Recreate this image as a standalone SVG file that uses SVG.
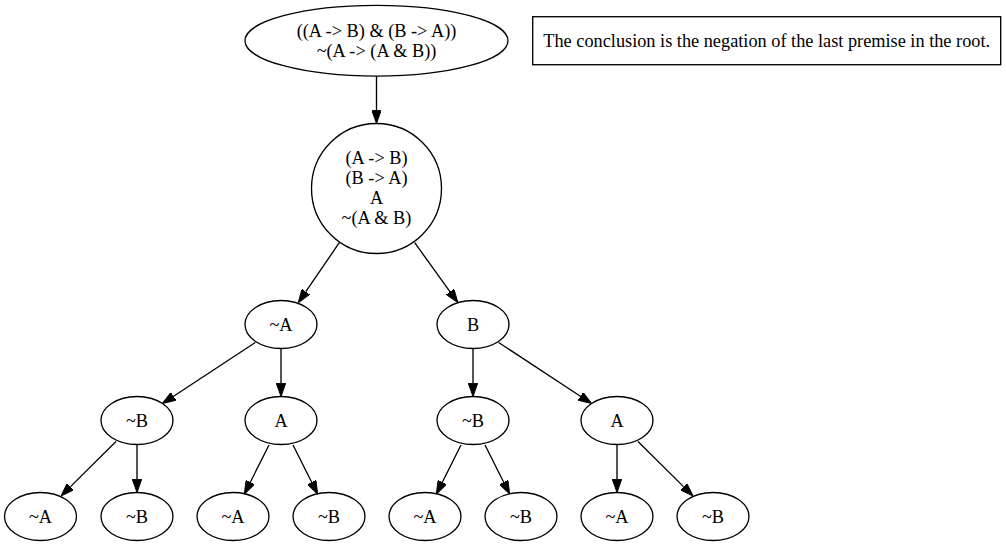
<svg xmlns="http://www.w3.org/2000/svg" width="1006" height="547" viewBox="0 0 1006 547">
<style>
.n{fill:none;stroke:#000;stroke-width:1.33}
.t{font-family:"Liberation Serif","Times New Roman",serif;font-size:18.3px;fill:#000;text-anchor:middle}
.e{fill:none;stroke:#000;stroke-width:1.33}
</style>
<defs>
<marker id="ah" markerUnits="userSpaceOnUse" viewBox="0 0 13.3 9.4" refX="0" refY="4.7" markerWidth="13.3" markerHeight="9.4" orient="auto">
<path d="M0,0 L13.3,4.7 L0,9.4 z" fill="#000" stroke="#000" stroke-width="1"/>
</marker>
</defs>
<rect x="0" y="0" width="1006" height="547" fill="#fff"/>
<g id="connectors">
<line class="e" x1="376.5" y1="76.1" x2="376.5" y2="110.2" marker-end="url(#ah)"/>
<line class="e" x1="339.3" y1="242.7" x2="305.8" y2="291.7" marker-end="url(#ah)"/>
<line class="e" x1="414.7" y1="242.7" x2="450.1" y2="291.8" marker-end="url(#ah)"/>
<line class="e" x1="255.3" y1="342.5" x2="173.6" y2="396.2" marker-end="url(#ah)"/>
<line class="e" x1="281" y1="348.5" x2="281" y2="383.2" marker-end="url(#ah)"/>
<line class="e" x1="473" y1="348.5" x2="473" y2="383.2" marker-end="url(#ah)"/>
<line class="e" x1="498.7" y1="342.5" x2="580.4" y2="396.2" marker-end="url(#ah)"/>
<line class="e" x1="116" y1="441.5" x2="70.5" y2="486.6" marker-end="url(#ah)"/>
<line class="e" x1="137" y1="444.5" x2="137" y2="479.2" marker-end="url(#ah)"/>
<line class="e" x1="269" y1="445" x2="250.3" y2="482.2" marker-end="url(#ah)"/>
<line class="e" x1="293" y1="445" x2="311.7" y2="482.2" marker-end="url(#ah)"/>
<line class="e" x1="461" y1="445" x2="442.3" y2="482.2" marker-end="url(#ah)"/>
<line class="e" x1="485" y1="445" x2="503.7" y2="482.2" marker-end="url(#ah)"/>
<line class="e" x1="617" y1="444.5" x2="617" y2="479.2" marker-end="url(#ah)"/>
<line class="e" x1="638" y1="441.5" x2="683.5" y2="486.6" marker-end="url(#ah)"/>
</g>
<g id="root">
<ellipse class="n" cx="376.5" cy="40.7" rx="131.5" ry="35.4"/>
<text class="t" x="376.5" y="36.5">((A -&gt; B) &amp; (B -&gt; A))</text>
<text class="t" x="376.5" y="57">~(A -&gt; (A &amp; B))</text>
</g>
<g id="note">
<rect class="n" x="532.7" y="16.7" width="468" height="48"/>
<text class="t" x="766.7" y="46.5">The conclusion is the negation of the last premise in the root.</text>
</g>
<g id="premises">
<circle class="n" cx="376.5" cy="188.5" r="65"/>
<text class="t" x="376.5" y="163.5">(A -&gt; B)</text>
<text class="t" x="376.5" y="183.5">(B -&gt; A)</text>
<text class="t" x="376.5" y="203.5">A</text>
<text class="t" x="376.5" y="223.5">~(A &amp; B)</text>
</g>
<g id="n_notA"><ellipse class="n" cx="281" cy="324.5" rx="36" ry="24"/><text class="t" x="281" y="330.5">~A</text></g>
<g id="n_B"><ellipse class="n" cx="473" cy="324.5" rx="36" ry="24"/><text class="t" x="473" y="330.5">B</text></g>
<g id="n_notA_notB"><ellipse class="n" cx="137" cy="420.5" rx="36" ry="24"/><text class="t" x="137" y="426.5">~B</text></g>
<g id="n_notA_A"><ellipse class="n" cx="281" cy="420.5" rx="36" ry="24"/><text class="t" x="281" y="426.5">A</text></g>
<g id="n_B_notB"><ellipse class="n" cx="473" cy="420.5" rx="36" ry="24"/><text class="t" x="473" y="426.5">~B</text></g>
<g id="n_B_A"><ellipse class="n" cx="617" cy="420.5" rx="36" ry="24"/><text class="t" x="617" y="426.5">A</text></g>
<g id="leaf1"><ellipse class="n" cx="40.5" cy="516.5" rx="36" ry="24"/><text class="t" x="40.5" y="522.5">~A</text></g>
<g id="leaf2"><ellipse class="n" cx="137" cy="516.5" rx="36" ry="24"/><text class="t" x="137" y="522.5">~B</text></g>
<g id="leaf3"><ellipse class="n" cx="233" cy="516.5" rx="36" ry="24"/><text class="t" x="233" y="522.5">~A</text></g>
<g id="leaf4"><ellipse class="n" cx="329" cy="516.5" rx="36" ry="24"/><text class="t" x="329" y="522.5">~B</text></g>
<g id="leaf5"><ellipse class="n" cx="425" cy="516.5" rx="36" ry="24"/><text class="t" x="425" y="522.5">~A</text></g>
<g id="leaf6"><ellipse class="n" cx="521" cy="516.5" rx="36" ry="24"/><text class="t" x="521" y="522.5">~B</text></g>
<g id="leaf7"><ellipse class="n" cx="617" cy="516.5" rx="36" ry="24"/><text class="t" x="617" y="522.5">~A</text></g>
<g id="leaf8"><ellipse class="n" cx="713" cy="516.5" rx="36" ry="24"/><text class="t" x="713" y="522.5">~B</text></g>
</svg>
